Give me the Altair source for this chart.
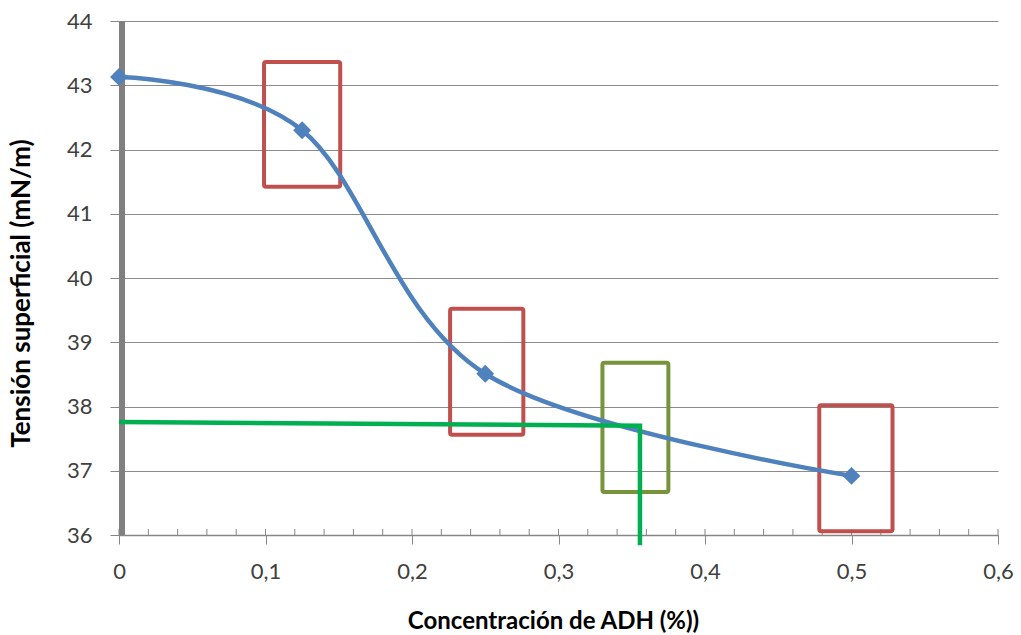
import altair as alt
import pandas as pd

# Measured data (Excel chart)
conc = [0.0, 0.125, 0.25, 0.5]
tension = [43.13, 42.30, 38.51, 36.92]

# Highlight rectangles
rect_x1 = [0.099, 0.226, 0.478, 0.330]
rect_x2 = [0.151, 0.276, 0.528, 0.375]
rect_y1 = [43.36, 39.52, 38.02, 38.68]
rect_y2 = [41.42, 37.56, 36.06, 36.67]
rect_kind = ["red", "red", "red", "olive"]

# Green guide line (horizontal then vertical)
guide_x = [0.0, 0.3556, 0.3556]
guide_y = [37.76, 37.70, 35.84]
guide_order = [0, 1, 2]

minor_ticks = [round(i * 0.02, 2) for i in range(31)]

FONT = "Lato"
W, H = 879, 514

pts = pd.DataFrame({"x": conc, "y": tension})
rects = pd.DataFrame({"x1": rect_x1, "x2": rect_x2, "y1": rect_y1, "y2": rect_y2, "k": rect_kind})
guide = pd.DataFrame({"x": guide_x, "y": guide_y, "o": guide_order})
minor = pd.DataFrame({"x": minor_ticks})

xscale = alt.Scale(domain=[0, 0.6], nice=False, zero=False)
yscale = alt.Scale(domain=[36, 44], nice=False, zero=False)

xaxis = alt.Axis(
    title="Concentración de ADH (%))",
    values=[0, 0.1, 0.2, 0.3, 0.4, 0.5, 0.6],
    labelExpr="datum.value == 0 ? '0' : replace(format(datum.value, '.1f'), '.', ',')",
    labelFont=FONT, labelFontSize=22, labelColor="#404040", labelPadding=17,
    labelFlush=False,
    titleFont=FONT, titleFontSize=24, titleFontWeight="bold", titleColor="#000000",
    titlePadding=27, titleX=434, titleAlign="center",
    tickSize=9, tickColor="#868686", tickWidth=1,
    domainColor="#868686", domainWidth=1.5, grid=False,
)
yaxis = alt.Axis(
    title="Tensión superficial (mN/m)",
    values=[36, 37, 38, 39, 40, 41, 42, 43, 44],
    format="d",
    labelFont=FONT, labelFontSize=22, labelColor="#404040", labelPadding=18,
    titleFont=FONT, titleFontSize=26, titleFontWeight="bold", titleColor="#000000",
    titlePadding=32, titleY=272, titleAlign="center",
    tickSize=9, tickColor="#868686", tickWidth=1,
    grid=True, gridColor="#8c8c8c", gridWidth=1,
    domain=False,
)

base = alt.Chart(pts).mark_point(opacity=0).encode(
    x=alt.X("x:Q", scale=xscale, axis=xaxis),
    y=alt.Y("y:Q", scale=yscale, axis=yaxis),
)

minor_layer = alt.Chart(minor).mark_rule(color="#868686", strokeWidth=1).encode(
    x=alt.X("x:Q", scale=xscale),
    y=alt.value(H - 6),
    y2=alt.value(H),
)

yline = alt.Chart(pd.DataFrame({"x": [0.0], "y1": [36.0], "y2": [44.0]})).mark_rule(
    color="#808080", strokeWidth=6, xOffset=3
).encode(x=alt.X("x:Q", scale=xscale), y=alt.Y("y1:Q", scale=yscale), y2="y2:Q")

rect_layer = alt.Chart(rects).mark_rect(
    filled=False, strokeWidth=4, cornerRadius=2
).encode(
    x=alt.X("x1:Q", scale=xscale), x2="x2:Q",
    y=alt.Y("y1:Q", scale=yscale), y2="y2:Q",
    stroke=alt.Stroke("k:N", scale=alt.Scale(domain=["red", "olive"], range=["#C0504D", "#77933C"]), legend=None),
)

curve = alt.Chart(pts).mark_line(
    color="#4F81BD", strokeWidth=4.5, interpolate="cardinal", tension=0
).encode(x=alt.X("x:Q", scale=xscale), y=alt.Y("y:Q", scale=yscale))

markers = alt.Chart(pts).mark_point(
    shape="diamond", filled=True, color="#4F81BD", size=320, opacity=1
).encode(x=alt.X("x:Q", scale=xscale), y=alt.Y("y:Q", scale=yscale))

guide_layer = alt.Chart(guide).mark_line(
    color="#00B050", strokeWidth=4.5, strokeJoin="miter"
).encode(x=alt.X("x:Q", scale=xscale), y=alt.Y("y:Q", scale=yscale), order="o:O")

chart = alt.layer(
    base, minor_layer, yline, rect_layer, curve, markers, guide_layer
).properties(
    width=W, height=H,
    autosize=alt.AutoSizeParams(type="none"),
    padding={"left": 119, "top": 21, "right": 23, "bottom": 100},
    background="white",
).configure_view(stroke=None)

chart.save("out.html", embed_options={"renderer": "svg", "actions": False})
